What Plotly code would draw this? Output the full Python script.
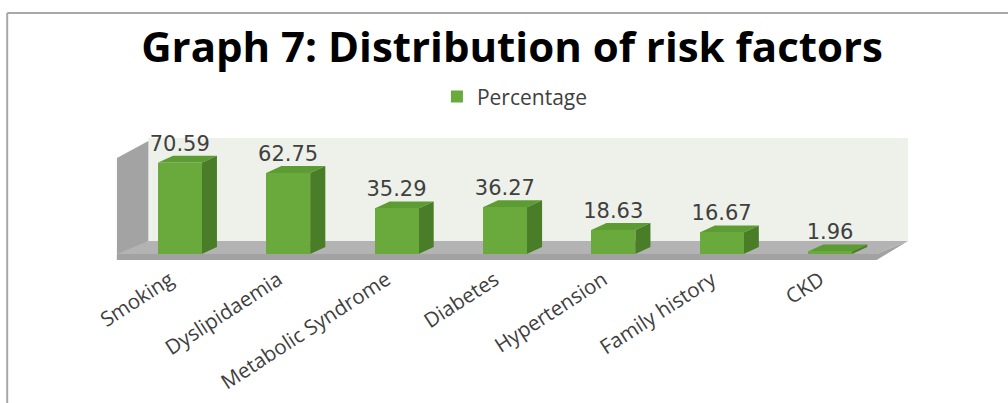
import plotly.graph_objects as go

# Risk factor data
categories = ["Smoking", "Dyslipidaemia", "Metabolic Syndrome", "Diabetes",
              "Hypertension", "Family history", "CKD"]
percentages = [70.59, 62.75, 35.29, 36.27, 18.63, 16.67, 1.96]
series_name = "Percentage"

# Colours
FRONT = "#6aaa3c"
TOP = "#5c9c33"
SIDE = "#4a7d27"
WALL = "#eef1ea"
SIDE_WALL = "#a3a3a3"
FLOOR_TOP = "#b3b3b3"
FLOOR_FRONT = "#a2a2a2"
TEXT = "#404040"

# Geometry (in axis units)
BAR_W = 0.406          # front face width
DX, DY = 0.14, 5.4     # depth offset of the bar prisms
X_RANGE = [-0.69, 6.83]
Y_RANGE = [-7.0, 96.0]

xs = list(range(len(categories)))

fig = go.Figure()

fig.add_trace(go.Bar(
    x=xs, y=percentages, width=BAR_W, name=series_name,
    marker=dict(color=FRONT, line=dict(width=0)),
    showlegend=True, hoverinfo="skip",
))

fig.add_trace(go.Scatter(
    x=xs, y=[v + DY for v in percentages],
    mode="text", text=[f"{v:.2f}" for v in percentages],
    textposition="top center",
    textfont=dict(family="DejaVu Sans", size=21, color=TEXT),
    showlegend=False, hoverinfo="skip",
))

shapes = []

def poly(pts, color, layer="below"):
    path = "M " + " L ".join(f"{px},{py}" for px, py in pts) + " Z"
    return dict(type="path", path=path, xref="x", yref="y",
                fillcolor=color, line=dict(width=0), layer=layer)

# Back wall, side wall and floor of the 3D box
xl_front, xl_back, xr_back, xr_front = -0.58, -0.29, 6.72, 6.43
y_floor_front, y_floor_back, y_wall_top = -4.7, 10.1, 89.9
shapes.append(poly([(xl_back, y_floor_back), (xr_back, y_floor_back),
                    (xr_back, y_wall_top), (xl_back, y_wall_top)], WALL))
shapes.append(poly([(xl_front, y_floor_front), (xl_front, y_wall_top - 15.5),
                    (xl_back, y_wall_top - 2.5), (xl_back, y_floor_back)], SIDE_WALL))
shapes.append(poly([(xl_front, 0), (xr_front, 0),
                    (xr_back, y_floor_back), (xl_back, y_floor_back)], FLOOR_TOP))
shapes.append(poly([(xl_front, y_floor_front), (xr_front, y_floor_front),
                    (xr_back, y_floor_back), (xr_front, 0),
                    (xl_front, 0)], FLOOR_FRONT))

# Top and side faces of each bar
for x, v in zip(xs, percentages):
    x0, x1 = x - BAR_W / 2, x + BAR_W / 2
    shapes.append(poly([(x0, v), (x1, v), (x1 + DX, v + DY), (x0 + DX, v + DY)], TOP))
    shapes.append(poly([(x1, 0), (x1 + DX, DY), (x1 + DX, v + DY), (x1, v)], SIDE))

# Frame lines along the top and left edges
shapes.append(dict(type="line", xref="paper", yref="paper",
                   x0=-0.12, x1=1.2, y0=1.88, y1=1.88,
                   line=dict(color="#a8a8a8", width=2), layer="above"))
shapes.append(dict(type="line", xref="paper", yref="paper",
                   x0=-0.12, x1=-0.12, y0=1.88, y1=-1.2,
                   line=dict(color="#a8a8a8", width=2), layer="above"))

fig.update_layout(
    width=1008, height=403,
    margin=dict(l=105, r=88, t=130, b=140),
    paper_bgcolor="white", plot_bgcolor="white",
    shapes=shapes,
    title=dict(text="<b>Graph 7: Distribution of risk factors</b>",
               x=0.508, xref="container", xanchor="center",
               y=0.883, yref="container", yanchor="middle",
               automargin=False,
               font=dict(family="Open Sans", size=42, color="black")),
    legend=dict(orientation="h", x=0.503, xanchor="center", y=1.25,
                yanchor="middle", font=dict(family="Open Sans", size=21, color=TEXT),
                bgcolor="rgba(0,0,0,0)"),
    xaxis=dict(range=X_RANGE, tickvals=xs, ticktext=categories,
               tickangle=-33, showgrid=False, zeroline=False, showline=False,
               ticks="", ticklabelshift=-10, automargin=False,
               tickfont=dict(family="Open Sans", size=20.5, color=TEXT),
               fixedrange=True),
    yaxis=dict(range=Y_RANGE, visible=False, showgrid=False, zeroline=False,
               automargin=False, fixedrange=True),
    bargap=0,
)

fig.write_html("out.html")
